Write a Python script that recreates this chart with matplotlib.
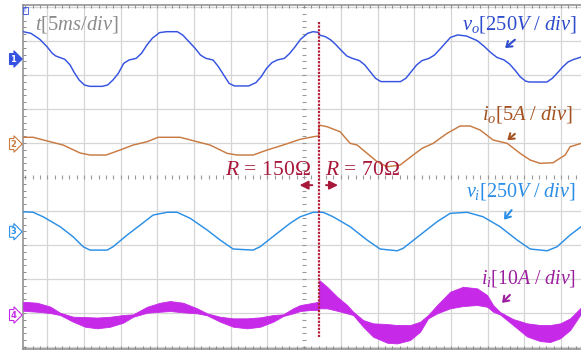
import matplotlib
matplotlib.use("Agg")
import matplotlib.pyplot as plt
from matplotlib.ticker import MultipleLocator

# ---------------- data (time in ms, 5 ms/div, t=0 at screen centre) ----------------
T_STEP = 2.04  # load step R=150 -> 70 ohm

vo_t = [-38.30, -37.23, -36.01, -35.04, -34.31, -33.82, -32.61, -31.88, -31.39, -30.66,
        -29.93, -29.20, -27.50, -26.77, -26.04, -25.31, -24.58, -23.85, -22.88, -22.15,
        -21.42, -20.69, -19.71, -18.74, -17.28, -16.55, -15.82, -14.85, -14.12, -13.39,
        -12.41, -11.68, -10.95, -10.22, -9.49, -7.55, -6.58, -5.85, -5.12, -4.39,
        -3.66, -2.68, -1.95, -1.22, -0.49, 0.48, 1.21, 1.95,
        2.05, 2.91, 3.64, 4.37, 5.10, 5.83, 6.56, 7.54, 8.27, 9.00,
        9.73, 10.46, 13.13, 13.86, 14.59, 15.32, 16.05, 17.02, 17.75, 18.48,
        19.21, 19.94, 20.92, 22.13, 22.86, 23.59, 24.57, 25.54, 26.27, 27.24,
        27.97, 28.70, 29.43, 30.16, 30.65, 33.08, 33.81, 34.54, 35.27, 36.00,
        36.73, 37.61, 38.20]
vo_v = [201, 189, 145, 91, 42, 22, -2, -44, -93, -154,
        -191, -201, -201, -191, -154, -105, -32, -7, 5, 42,
        103, 152, 194, 201, 201, 177, 135, 79, 29, 5,
        -7, -56, -118, -179, -198, -198, -174, -130, -69, -27,
        -7, 5, 42, 91, 145, 189, 201, 196,
        177, 164, 140, 103, 61, 22, 5, -12, -44, -93,
        -142, -166, -166, -142, -93, -44, -12, 5, 29, 71,
        115, 159, 177, 169, 152, 135, 91, 42, 12, -7,
        -36, -80, -130, -162, -169, -169, -142, -100, -56, -20,
        -3, 12, 25]

io_t = [-38.28, -36.92, -35.15, -32.83, -30.52, -29.16, -26.98, -25.07, -23.30, -21.39,
        -19.89, -16.89, -15.12, -12.81, -10.49, -9.13, -6.95, -5.04, -2.86, -0.54,
        1.23, 2.00, 2.04, 3.13, 4.90, 6.27, 7.22, 8.58, 9.95, 11.31,
        13.08, 14.85, 16.08, 17.58, 19.48, 21.25, 22.62, 23.98, 25.75, 27.66,
        29.43, 30.79, 32.15, 33.92, 35.56, 36.24, 37.74]
io_a = [0.99, 0.99, 0.49, -0.15, -1.32, -1.62, -1.62, -0.88, -0.15, 0.34,
        0.99, 0.99, 0.49, -0.15, -1.37, -1.62, -1.62, -0.88, -0.15, 0.69,
        1.07, 1.18, 2.79, 2.54, 1.81, 0.10, -0.15, -1.37, -2.60, -3.34,
        -3.09, -1.62, -0.63, 0.10, 1.57, 2.65, 2.65, 2.06, 0.59, 0.10,
        -1.37, -2.35, -2.84, -2.75, -1.62, -0.40, 0.10]

vi_t = [-38.30, -36.92, -35.56, -33.24, -31.47, -30.11, -29.16, -26.84, -26.02, -24.11,
        -22.34, -20.57, -18.66, -17.30, -15.53, -13.22, -11.44, -9.67, -6.95, -5.99,
        -3.68, -1.91, -0.54, 1.23, 2.59, 3.95, 6.27, 8.58, 10.35, 12.67,
        13.49, 15.80, 18.12, 19.89, 22.21, 24.39, 26.70, 29.02, 30.79, 33.11,
        34.47, 36.24, 37.74]
vi_v = [147, 143, 110, 37, -37, -110, -135, -135, -110, -24,
        49, 123, 143, 143, 99, 13, -61, -127, -135, -110,
        -12, 62, 110, 143, 143, 110, 37, -61, -127, -140,
        -122, -24, 74, 135, 143, 110, 37, -61, -127, -140,
        -110, -24, 37]

# input current: envelope of the switching-ripple band
ii_t = [-38.28, -36.38, -34.60, -33.24, -31.47, -29.84, -28.20, -26.43, -24.66, -23.30,
        -21.39, -19.62, -18.26, -16.49, -14.58, -13.22, -11.44, -9.67, -7.77, -5.99,
        -4.22, -2.86, -1.50, -0.54, 0.82, 1.98, 2.06, 3.13, 4.50, 5.86,
        6.68, 8.04, 9.40, 11.31, 12.67, 14.44, 15.80, 16.89, 18.12, 19.89,
        21.66, 23.57, 24.93, 25.75, 26.70, 28.47, 30.38, 32.15, 33.51, 34.88,
        36.24, 37.60, 38.50]
ii_hi = [3.91, 3.62, 2.50, 0.68, -0.50, -0.59, -0.74, -0.50, 0.00, 0.21,
         2.44, 3.62, 4.12, 3.62, 1.97, 0.50, -0.50, -0.97, -0.97, -0.68,
         0.00, 0.21, 1.97, 2.94, 3.44, 3.91, 10.29, 8.32, 5.38, 2.94,
         0.97, -1.47, -2.44, -2.65, -2.94, -2.94, -1.97, 0.00, 2.94, 6.85,
         8.32, 7.85, 5.88, 2.94, 0.88, -1.18, -2.44, -2.94, -2.94, -2.44,
         -0.97, 1.97, 3.50]
ii_lo = [1.26, 0.97, 0.59, 0.00, -1.97, -3.44, -3.91, -3.44, -2.26, -0.50,
         0.68, 0.97, 1.18, 0.79, 0.50, -0.09, -1.97, -3.44, -3.91, -3.44,
         -1.97, -0.29, 0.50, 1.18, 1.47, 1.47, 1.97, 1.97, 1.26, 0.50,
         0.00, -3.44, -6.38, -8.15, -8.35, -7.35, -4.91, -0.97, 0.50, 1.97,
         2.65, 2.94, 2.44, 0.97, 0.15, -2.94, -6.32, -7.65, -7.94, -6.85,
         -4.41, 0.00, 0.50]

# channel scales (per div) and ground-marker positions (div from centre)
channels = ["1", "2", "3", "4"]
ch_scale = [250.0, 5.0, 250.0, 10.0]
ch_offset = [3.47, 0.97, -1.61, -4.06]
ch_color = ["#3553e0", "#c87a42", "#2b8fe6", "#c62ae8"]

# ---------------- figure ----------------
plt.rcParams["mathtext.fontset"] = "custom"
plt.rcParams["mathtext.rm"] = "Liberation Serif"
plt.rcParams["mathtext.it"] = "Liberation Serif:italic"
plt.rcParams["mathtext.bf"] = "Liberation Serif:bold"

W, H = 581, 352
fig = plt.figure(figsize=(W / 100, H / 100), dpi=100)
PX_PER_MS = 36.7 / 5.0
x0_px, top_px, bot_px = 23, 5, 348.5
ax = fig.add_axes([x0_px / W, (H - bot_px) / H, (620 - x0_px) / W, (bot_px - top_px) / H])
t_left = -38.30
ax.set_xlim(t_left, t_left + (620 - x0_px) / PX_PER_MS)
ax.set_ylim(-(bot_px - 177) / 34.0, (177 - top_px) / 34.0)

# grid
grid_c = "#d6d6d6"
for k in range(-7, 9):
    if k != 0:
        ax.axvline(5 * k, color=grid_c, lw=0.9, zorder=0)
for k in range(-5, 6):
    if k != 0:
        ax.axhline(k, color=grid_c, lw=0.9, zorder=0)
# centre cross-hair with minor ticks
tick_c = "#9a9a9a"
xs = [i * 1.0 for i in range(-38, 41)]
ax.plot(xs, [0] * len(xs), ls="none", marker="|", ms=2.5, mew=0.8, color=tick_c, zorder=1)
ys = [i * 0.2 for i in range(-25, 26)]
ax.plot([0] * len(ys), ys, ls="none", marker="_", ms=3, mew=0.8, color=tick_c, zorder=1)

# spines / ticks
for s in ["left", "top", "bottom"]:
    ax.spines[s].set_color("#8a8a8a")
    ax.spines[s].set_linewidth(1.1)
ax.spines["right"].set_visible(False)
ax.xaxis.set_major_locator(MultipleLocator(1.0))
ax.yaxis.set_major_locator(MultipleLocator(0.2))
ax.tick_params(direction="in", length=2.5, width=0.7, color="#8a8a8a",
               top=True, bottom=True, left=True, right=False,
               labelbottom=False, labelleft=False)

# waveforms
ax.plot(vo_t, [ch_offset[0] + v / ch_scale[0] for v in vo_v], color=ch_color[0], lw=1.05,
        zorder=3, solid_joinstyle="round")
ax.plot(io_t, [ch_offset[1] + v / ch_scale[1] for v in io_a], color=ch_color[1], lw=1.05,
        zorder=3, solid_joinstyle="round")
ax.plot(vi_t, [ch_offset[2] + v / ch_scale[2] for v in vi_v], color=ch_color[2], lw=1.05,
        zorder=3, solid_joinstyle="round")
ax.fill_between(ii_t, [ch_offset[3] + v / ch_scale[3] for v in ii_lo],
                [ch_offset[3] + v / ch_scale[3] for v in ii_hi],
                color=ch_color[3], lw=0.6, zorder=3)

# load-step marker
red = "#a8183a"
ax.plot([T_STEP, T_STEP], [4.55, -4.72], color="#b3203a", lw=1.6,
        ls=(0, (1, 0.6)), zorder=4)
ax.text(-10.8, 0.06, r"$R\,=\,150\Omega$", color=red, fontsize=15.5, zorder=5)
ax.text(2.8, 0.06, r"$R\,=\,70\Omega$", color=red, fontsize=15.5, zorder=5)
ax.annotate("", xy=(-1.0, -0.24), xytext=(1.5, -0.24),
            arrowprops=dict(arrowstyle="-|>,head_length=0.5,head_width=0.25", color=red, lw=1.4))
ax.annotate("", xy=(5.0, -0.24), xytext=(2.6, -0.24),
            arrowprops=dict(arrowstyle="-|>,head_length=0.5,head_width=0.25", color=red, lw=1.4))

# labels
ax.text(-36.6, 4.33, r"$t[5ms/div]$", color="#8c8c8c", fontsize=14.8, zorder=5)
ax.text(21.5, 4.33, r"$v_o[250V\ /\ div]$", color="#2f4ccc", fontsize=14.8, zorder=5)
ax.text(24.3, 1.68, r"$i_o[5A\ /\ div]$", color="#a4521f", fontsize=14.8, zorder=5)
ax.text(22.1, -0.58, r"$v_i[250V\ /\ div]$", color="#2a8ee8", fontsize=14.5, zorder=5)
ax.text(24.1, -3.12, r"$i_i[10A\ /\ div]$", color="#9c1fa0", fontsize=14.3, zorder=5)

arrow_kw = "->,head_length=0.35,head_width=0.25"
ax.annotate("", xy=(27.1, 3.74), xytext=(29.0, 4.09),
            arrowprops=dict(arrowstyle=arrow_kw, color="#2f4ccc", lw=1.5))
ax.annotate("", xy=(27.4, 1.03), xytext=(29.0, 1.32),
            arrowprops=dict(arrowstyle=arrow_kw, color="#a4521f", lw=1.5))
ax.annotate("", xy=(27.0, -1.32), xytext=(28.5, -0.91),
            arrowprops=dict(arrowstyle=arrow_kw, color="#2a8ee8", lw=1.5))
ax.annotate("", xy=(26.7, -3.76), xytext=(28.3, -3.41),
            arrowprops=dict(arrowstyle=arrow_kw, color="#9c1fa0", lw=1.5))

# channel ground markers
for i, (name, off, c) in enumerate(zip(channels, ch_offset, ch_color)):
    filled = (i == 0)
    ax.text(-39.6, off, name, ha="center", va="center", fontsize=6, fontweight="bold",
            color="white" if filled else c, clip_on=False, zorder=6,
            bbox=dict(boxstyle="rarrow,pad=0.12", fc=c if filled else "white", ec=c, lw=0.8))

# trigger marker
ax.text(-38.0, 4.9, "T", ha="center", va="center", fontsize=4.5, color="#3553e0", zorder=6,
        bbox=dict(boxstyle="square,pad=0.1", fc="white", ec="#3553e0", lw=0.6))

fig.savefig("out.png", dpi=100)
